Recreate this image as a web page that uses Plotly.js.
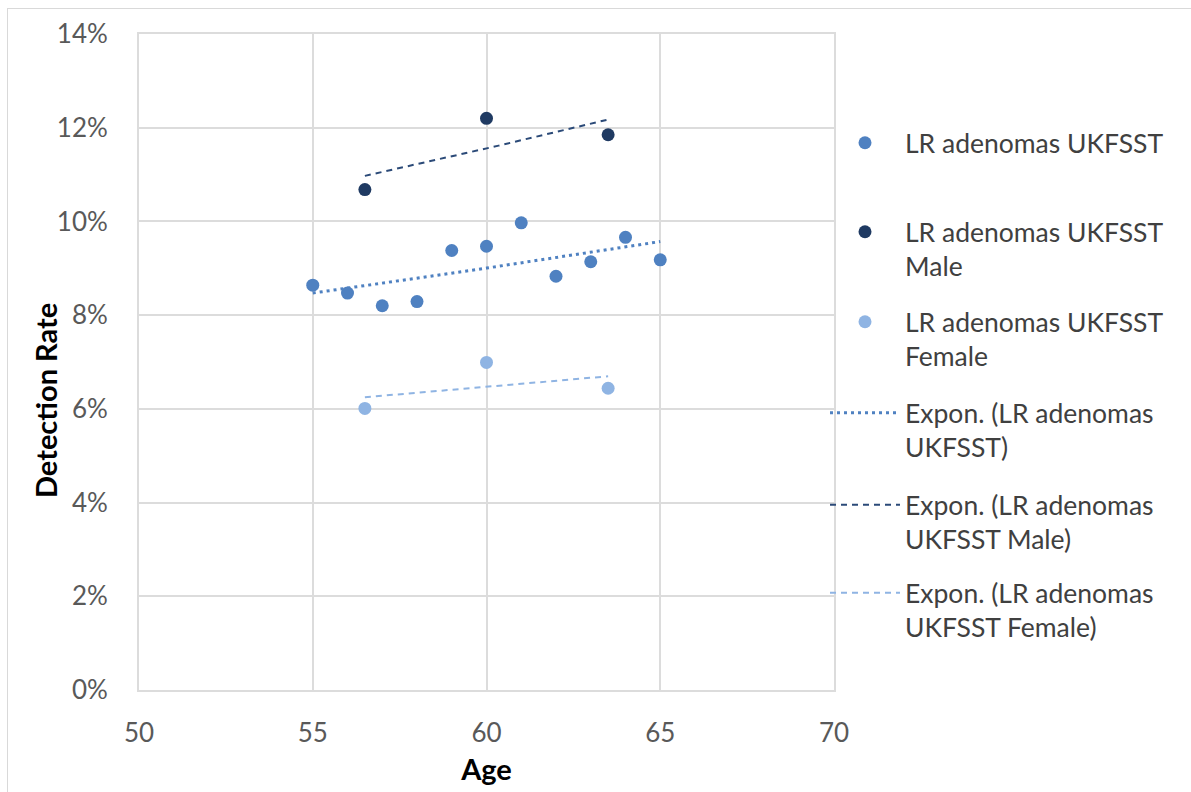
<!DOCTYPE html>
<html>
<head>
<meta charset="utf-8">
<script src="https://cdn.plot.ly/plotly-3.0.1.min.js"></script>
<style>
  html, body { margin: 0; padding: 0; background: #ffffff; }
  #wrap { position: relative; width: 1191px; height: 792px; overflow: hidden; }
  #chart { position: absolute; left: 0; top: 0; width: 1191px; height: 792px; }
  #frame { position: absolute; left: 7px; top: 8px; width: 1200px; height: 800px;
           border-left: 1.5px solid #d9d9d9; border-top: 1.5px solid #d9d9d9; pointer-events: none; }
</style>
</head>
<body>
<div id="wrap">
  <div id="chart"></div>
  <div id="frame"></div>
</div>
<script>
// ---- data ----
const agesAll = [55, 56, 57, 58, 59, 60, 61, 62, 63, 64, 65];
const rateAll = [0.0864, 0.0847, 0.0820, 0.0829, 0.0938, 0.0947, 0.0997, 0.0883, 0.0914, 0.0966, 0.0918];

const agesMale = [56.5, 60, 63.5];
const rateMale = [0.1068, 0.1220, 0.1185];

const agesFemale = [56.5, 60, 63.5];
const rateFemale = [0.0601, 0.0699, 0.0644];

const seriesNames = [
  'LR adenomas UKFSST',
  'LR adenomas UKFSST<br>Male',
  'LR adenomas UKFSST<br>Female'
];
const trendNames = [
  'Expon. (LR adenomas<br>UKFSST)',
  'Expon. (LR adenomas<br>UKFSST Male)',
  'Expon. (LR adenomas<br>UKFSST Female)'
];
const xTickVals = [50, 55, 60, 65, 70];
const yTickVals = [0, 0.02, 0.04, 0.06, 0.08, 0.10, 0.12, 0.14];
const xTitle = 'Age';
const yTitle = 'Detection Rate';

// ---- exponential trendline (least squares on ln y), as Excel does ----
function expFit(xs, ys) {
  const n = xs.length;
  const ly = ys.map(Math.log);
  const mx = xs.reduce((a, b) => a + b, 0) / n;
  const my = ly.reduce((a, b) => a + b, 0) / n;
  let sxy = 0, sxx = 0;
  for (let i = 0; i < n; i++) { sxy += (xs[i] - mx) * (ly[i] - my); sxx += (xs[i] - mx) ** 2; }
  const b = sxy / sxx, a = my - b * mx;
  const x0 = Math.min(...xs), x1 = Math.max(...xs);
  const tx = [], ty = [];
  const steps = 40;
  for (let k = 0; k <= steps; k++) {
    const x = x0 + (x1 - x0) * k / steps;
    tx.push(x); ty.push(Math.exp(a + b * x));
  }
  return { x: tx, y: ty };
}

const cMain = '#4f81c1';
const cMale = '#1f3a62';
const cFemale = '#8fb4e3';

const fitAll = expFit(agesAll, rateAll);
const fitMale = expFit(agesMale, rateMale);
const fitFemale = expFit(agesFemale, rateFemale);

const traces = [
  { type: 'scatter', mode: 'markers', x: agesAll, y: rateAll, name: seriesNames[0], legend: 'legend',
    marker: { color: cMain, size: 13 } },
  { type: 'scatter', mode: 'markers', x: agesMale, y: rateMale, name: seriesNames[1], legend: 'legend2',
    marker: { color: cMale, size: 13 } },
  { type: 'scatter', mode: 'markers', x: agesFemale, y: rateFemale, name: seriesNames[2], legend: 'legend3',
    marker: { color: cFemale, size: 13 } },
  { type: 'scatter', mode: 'lines', x: fitAll.x, y: fitAll.y, name: trendNames[0], legend: 'legend4',
    line: { color: cMain, width: 3, dash: '3px,4px' } },
  { type: 'scatter', mode: 'lines', x: fitMale.x, y: fitMale.y, name: trendNames[1], legend: 'legend5',
    line: { color: '#2b4a78', width: 2, dash: '6px,5px' } },
  { type: 'scatter', mode: 'lines', x: fitFemale.x, y: fitFemale.y, name: trendNames[2], legend: 'legend6',
    line: { color: cFemale, width: 2, dash: '6px,5px' } }
];

// plot area: x 139..834 px, y 34..690 px
const PL = 139, PR = 834, PT = 34, PB = 690;
function py(px) { return (PB - px) / (PB - PT); }
function pxx(px) { return (px - PL) / (PR - PL); }

const legFont = { family: 'Lato, "Open Sans", sans-serif', size: 26.5, color: '#404040' };
function leg(topPx) {
  return {
    x: pxx(825), xanchor: 'left', y: py(topPx), yanchor: 'top',
    valign: 'top', itemwidth: 70, font: legFont, bgcolor: 'rgba(0,0,0,0)',
    borderwidth: 0, itemclick: false, itemdoubleclick: false
  };
}
const firstLineCentres = [143, 232, 322, 413, 505, 593];

const layout = {
  width: 1191, height: 792,
  margin: { l: PL, r: 1191 - PR, t: PT, b: 792 - PB, pad: 0 },
  paper_bgcolor: '#ffffff', plot_bgcolor: '#ffffff',
  font: { family: 'Lato, "Open Sans", sans-serif', color: '#595959' },
  showlegend: true,
  xaxis: {
    range: [50, 70], tickvals: xTickVals, ticktext: xTickVals.map(String),
    showgrid: true, gridcolor: '#dcdcdc', gridwidth: 2,
    showline: true, linecolor: '#dcdcdc', linewidth: 2, mirror: true,
    zeroline: false, ticks: '', ticklabelstandoff: 19,
    tickfont: { size: 26, color: '#595959' },
    title: { text: xTitle, font: { size: 29, color: '#000000', weight: 'bold' }, standoff: 12 },
    fixedrange: true
  },
  yaxis: {
    range: [0, 0.14], tickvals: yTickVals, tickformat: '.0%',
    showgrid: true, gridcolor: '#dcdcdc', gridwidth: 2,
    showline: true, linecolor: '#dcdcdc', linewidth: 2, mirror: true,
    zeroline: false, ticks: '', ticklabelstandoff: 24,
    tickfont: { size: 26, color: '#595959' },
    title: { text: '' },
    fixedrange: true
  },
  annotations: [
    { text: yTitle, textangle: -90, xref: 'paper', yref: 'paper',
      x: pxx(45), y: py(401), xanchor: 'center', yanchor: 'middle', showarrow: false,
      font: { family: 'Lato, "Open Sans", sans-serif', size: 29, color: '#000000', weight: 'bold' } }
  ],
  legend: leg(firstLineCentres[0] - 24),
  legend2: leg(firstLineCentres[1] - 24),
  legend3: leg(firstLineCentres[2] - 24),
  legend4: leg(firstLineCentres[3] - 24),
  legend5: leg(firstLineCentres[4] - 24),
  legend6: leg(firstLineCentres[5] - 24)
};

Plotly.newPlot('chart', traces, layout, { staticPlot: true, displayModeBar: false });
</script>
</body>
</html>
